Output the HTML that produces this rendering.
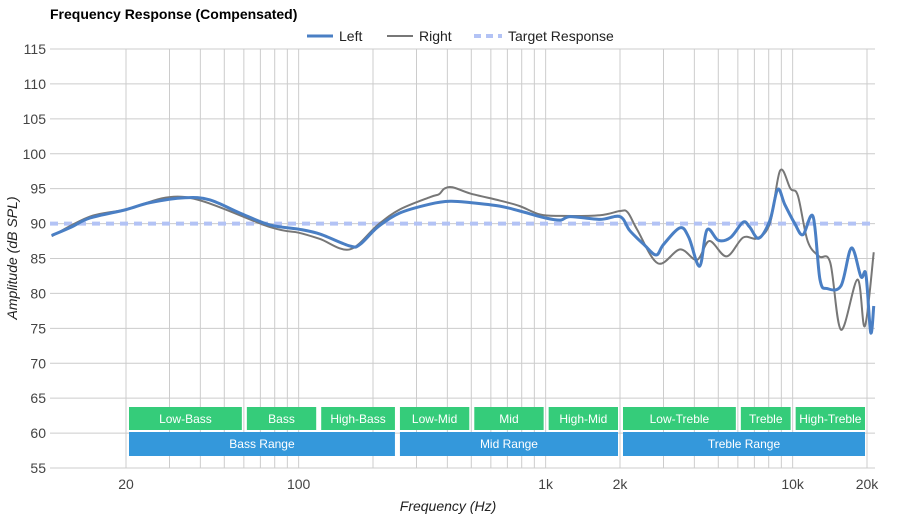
<!DOCTYPE html>
<html><head><meta charset="utf-8"><style>
body{margin:0;background:#fff;font-family:"Liberation Sans",sans-serif;}
svg text{font-family:"Liberation Sans",sans-serif;}
</style></head><body>
<svg id="c" width="900" height="520" viewBox="0 0 900 520">
<text x="50" y="19" font-size="14" font-weight="bold" fill="#000">Frequency Response (Compensated)</text>
<g>
<line x1="307" y1="36" x2="333" y2="36" stroke="#4a7fc4" stroke-width="3"/>
<text x="339" y="41" font-size="14" fill="#222">Left</text>
<line x1="387" y1="36" x2="413" y2="36" stroke="#777" stroke-width="2"/>
<text x="419" y="41" font-size="14" fill="#222">Right</text>
<line x1="474" y1="36" x2="502" y2="36" stroke="#b3c3f5" stroke-width="4" stroke-dasharray="7,5"/>
<text x="508" y="41" font-size="14" fill="#222">Target Response</text>
</g>
<g id="grid"></g><g id="bands"></g><g id="series"></g>
<text x="448" y="511" font-size="14" font-style="italic" text-anchor="middle" fill="#222">Frequency (Hz)</text>
<text transform="translate(17,258) rotate(-90)" font-size="14" font-style="italic" text-anchor="middle" fill="#222">Amplitude (dB SPL)</text>
</svg>
<script>
const yTicks=[55,60,65,70,75,80,85,90,95,100,105,110,115];
const xTickLabels=["20","100","1k","2k","10k","20k"];
const xTickValues=[20,100,1000,2000,10000,20000];
const leftFreq=[10,12,14.3,20,25,34.6,43.6,57.9,76.6,100,122,161,177,209,256,341,410,496,652,786,1000,1150,1260,1660,2000,2190,2500,2800,3000,3500,3800,4200,4500,5000,5600,6300,6700,7300,8100,8700,9300,10200,11000,12100,12900,13800,15700,17300,18900,19800,20700,21300];
const leftVals=[88.3,89.5,90.8,92,93,93.7,93.4,91.5,89.8,89.2,88.5,86.8,87,89.5,91.5,92.8,93.2,93,92.5,91.8,90.8,90.5,91,90.6,91,89,87,85.5,87,89.4,88,83.9,89.1,87.6,88,90.2,89.5,87.9,90.5,94.9,92.7,90,88.4,91,82,80.7,81.1,86.5,82.4,82.7,74.4,78.2];
const rightFreq=[10,14.3,20,34.6,76.6,100,122,161,209,256,341,370,389,420,496,652,786,950,1150,1660,2000,2150,2350,2850,3500,4100,4600,5400,6300,7200,8100,8900,9800,10500,11500,12800,14200,15700,18300,19600,21300];
const rightVals=[88.2,91,92,93.8,89.5,88.7,87.8,86.3,89.8,92,93.8,94.2,95,95.2,94.3,93.3,92.5,91.3,91.1,91.2,91.8,91.6,89.1,84.3,86.3,84.8,87.5,85.3,88,87.9,90.1,97.6,95,94,87.5,85.3,84.4,74.8,82,75.3,85.9];
const targetVal=90;
const bandNames=["Low-Bass","Bass","High-Bass","Low-Mid","Mid","High-Mid","Low-Treble","Treble","High-Treble"];
const bandEdges=[20,60,120,250,500,1000,2000,6000,10000,20000];
const rangeNames=["Bass Range","Mid Range","Treble Range"];
const rangeEdges=[20,250,2000,20000];

const X0=50,X1=875,Y0=49,Y1=468;
const fx=f=>126+247*(Math.log10(f)-Math.log10(20));
const fy=v=>Y1-(v-55)*(Y1-Y0)/60;
const NS="http://www.w3.org/2000/svg";
function mk(p,t,a){const e=document.createElementNS(NS,t);for(const k in a)e.setAttribute(k,a[k]);p.appendChild(e);return e;}
const grid=document.getElementById('grid');
yTicks.forEach(v=>{
 const l=mk(grid,'line',{x1:X0,x2:X1,y1:fy(v),y2:fy(v),stroke:'#ccc','stroke-width':1});
 
 
 const t=mk(grid,'text',{x:46,y:fy(v)+5,'font-size':14,'text-anchor':'end',fill:'#444'});
 t.textContent=v;
 
 
});
for(let d=10;d<=10000;d*=10){for(let m=1;m<10;m++){const f=d*m;if(f<10.5&&m==1)continue;const x=fx(f);if(x>X1)continue;
 const l=mk(grid,'line',{x1:x,x2:x,y1:Y0,y2:Y1,stroke:'#ccc','stroke-width':1});
 
 }}
const lx=fx(20000);const l2=mk(grid,'line',{x1:lx,x2:lx,y1:Y0,y2:Y1,stroke:'#ccc'});


xTickValues.forEach((f,i)=>{
 const t=mk(grid,'text',{x:fx(f),y:489,'font-size':14,'text-anchor':'middle',fill:'#444'});
 t.textContent=xTickLabels[i];
 
 
});
const bands=document.getElementById('bands');
bandNames.forEach((n,i)=>{
 const a=fx(bandEdges[i])+3,b=fx(bandEdges[i+1])-2;
 const r=mk(bands,'rect',{x:a,y:407,width:b-a,height:23,fill:'#35cc7a'});
 
 
 const t=mk(bands,'text',{x:(a+b)/2,y:423,'font-size':12,'text-anchor':'middle',fill:'#fff'});
 t.textContent=n;
 
 
});
rangeNames.forEach((n,i)=>{
 const a=fx(rangeEdges[i])+3,b=fx(rangeEdges[i+1])-2;
 const r=mk(bands,'rect',{x:a,y:432,width:b-a,height:24,fill:'#3498db'});
 
 
 const t=mk(bands,'text',{x:(a+b)/2,y:448,'font-size':12,'text-anchor':'middle',fill:'#fff'});
 t.textContent=n;
 
 
});
function path(fr,vs){const p=fr.map((f,i)=>[fx(f),fy(vs[i])]);let d='M'+p[0][0]+','+p[0][1];
 for(let i=0;i<p.length-1;i++){const a=p[i-1]||p[i],b=p[i],c=p[i+1],e=p[i+2]||c;
  d+=`C${b[0]+(c[0]-a[0])/6},${b[1]+(c[1]-a[1])/6} ${c[0]-(e[0]-b[0])/6},${c[1]-(e[1]-b[1])/6} ${c[0]},${c[1]}`;}return d;}
const s=document.getElementById('series');
const tg=mk(s,'line',{x1:X0,x2:X1,y1:fy(targetVal),y2:fy(targetVal),stroke:'#b3c3f5','stroke-width':4,'stroke-dasharray':'8,6'});


const rp=mk(s,'path',{d:path(rightFreq,rightVals),fill:'none',stroke:'#777','stroke-width':2});


const lp=mk(s,'path',{d:path(leftFreq,leftVals),fill:'none',stroke:'#4a7fc4','stroke-width':3});


</script>
</body></html>
